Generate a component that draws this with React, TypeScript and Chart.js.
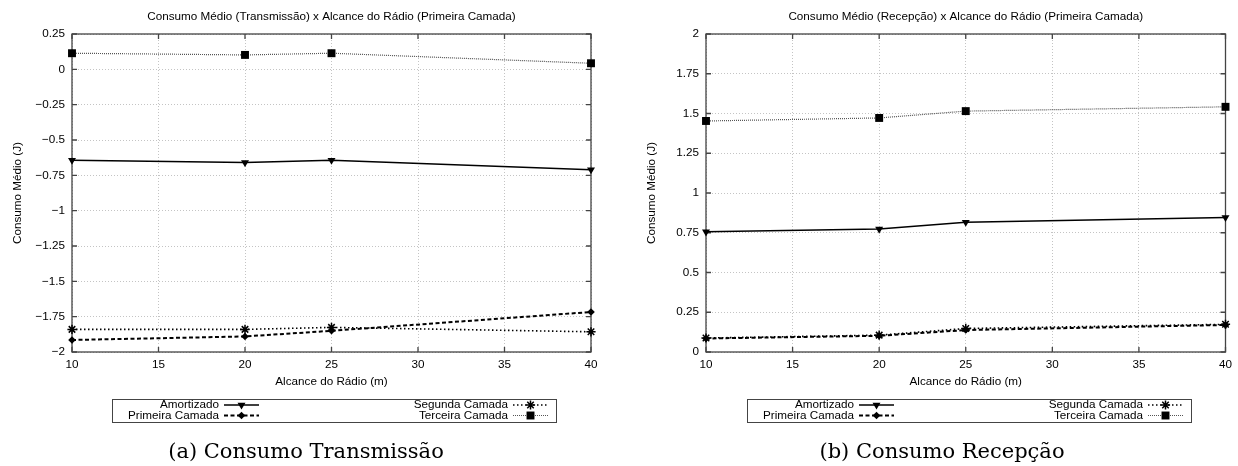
import React, { useEffect, useRef } from 'react';
import { Chart, registerables } from 'chart.js';

Chart.register(...registerables);

// Radio range (m) at which each run was measured
const alcance = [10, 20, 25, 40];
const xTickValues = [10, 15, 20, 25, 30, 35, 40];
const seriesNames = ['Amortizado', 'Primeira Camada', 'Segunda Camada', 'Terceira Camada'];

// Average consumption while transmitting (J)
const txAmortizado = [-0.643, -0.66, -0.643, -0.71];
const txPrimeira = [-1.915, -1.89, -1.85, -1.717];
const txSegunda = [-1.84, -1.84, -1.826, -1.857];
const txTerceira = [0.114, 0.102, 0.114, 0.043];

// Average consumption while receiving (J)
const rxAmortizado = [0.756, 0.773, 0.816, 0.846];
const rxPrimeira = [0.085, 0.102, 0.138, 0.17];
const rxSegunda = [0.088, 0.106, 0.148, 0.174];
const rxTerceira = [1.453, 1.472, 1.515, 1.542];

const txYRange = [-2, 0.25];
const rxYRange = [0, 2];
const yStep = 0.25;

const SANS = '"Liberation Sans", Arial, Helvetica, sans-serif';
const SERIF = '"DejaVu Serif", "Liberation Serif", serif';
const FS = 11.7;
const CW = 619;
const CH = 466;

type SeriesStyle = {
  dash: number[];
  width: number;
  color: string;
  point: string;
  rotation: number;
  radius: number;
};

const styles: SeriesStyle[] = [
  { dash: [], width: 1.5, color: '#000', point: 'triangle', rotation: 180, radius: 4.6 },
  { dash: [4, 2.5], width: 2, color: '#000', point: 'rectRot', rotation: 0, radius: 3.8 },
  { dash: [1.5, 2.5], width: 1.6, color: '#000', point: 'star', rotation: 0, radius: 4.6 },
  { dash: [1, 1], width: 1.2, color: '#555', point: 'rect', rotation: 0, radius: 5.6 },
];

type Panel = {
  title: string;
  caption: string;
  yRange: number[];
  series: number[][];
  plotLeft: number;
  plotRight: number;
  yTitleX: number;
  captionX: number;
  legendLeft: number;
};

const panels: Panel[] = [
  {
    title: 'Consumo Médio (Transmissão) x Alcance do Rádio (Primeira Camada)',
    caption: '(a) Consumo Transmissão',
    yRange: txYRange,
    series: [txAmortizado, txPrimeira, txSegunda, txTerceira],
    plotLeft: 72,
    plotRight: 591,
    yTitleX: 18,
    captionX: 306,
    legendLeft: 112,
  },
  {
    title: 'Consumo Médio (Recepção) x Alcance do Rádio (Primeira Camada)',
    caption: '(b) Consumo Recepção',
    yRange: rxYRange,
    series: [rxAmortizado, rxPrimeira, rxSegunda, rxTerceira],
    plotLeft: 87,
    plotRight: 608,
    yTitleX: 33,
    captionX: 323,
    legendLeft: 128,
  },
];

const fmtTick = (v: number) => String(Math.round(v * 100) / 100).replace('-', '\u2212');

function drawMarker(ctx: CanvasRenderingContext2D, st: SeriesStyle, x: number, y: number) {
  const r = st.radius;
  ctx.save();
  ctx.setLineDash([]);
  ctx.fillStyle = '#000';
  ctx.strokeStyle = '#000';
  ctx.lineWidth = 1.5;
  ctx.beginPath();
  if (st.point === 'triangle') {
    const s = Math.sin(Math.PI / 3) * r;
    ctx.moveTo(x, y + r);
    ctx.lineTo(x - s, y - r / 2);
    ctx.lineTo(x + s, y - r / 2);
    ctx.closePath();
    ctx.fill();
  } else if (st.point === 'rectRot') {
    ctx.moveTo(x, y - r);
    ctx.lineTo(x + r, y);
    ctx.lineTo(x, y + r);
    ctx.lineTo(x - r, y);
    ctx.closePath();
    ctx.fill();
  } else if (st.point === 'star') {
    const d = r * Math.SQRT1_2;
    ctx.moveTo(x - r, y); ctx.lineTo(x + r, y);
    ctx.moveTo(x, y - r); ctx.lineTo(x, y + r);
    ctx.moveTo(x - d, y - d); ctx.lineTo(x + d, y + d);
    ctx.moveTo(x - d, y + d); ctx.lineTo(x + d, y - d);
    ctx.stroke();
  } else {
    const h = r * Math.SQRT1_2;
    ctx.fillRect(x - h, y - h, 2 * h, 2 * h);
  }
  ctx.restore();
}

function decorPlugin(panel: Panel) {
  return {
    id: 'decor',
    beforeDatasetsDraw(chart: any) {
      const ctx: CanvasRenderingContext2D = chart.ctx;
      const { left, right, top, bottom } = chart.chartArea;
      const xs = chart.scales.x;
      const ys = chart.scales.y;
      ctx.save();
      ctx.strokeStyle = '#444';
      ctx.lineWidth = 1.3;
      ctx.setLineDash([]);
      ctx.strokeRect(left, top, right - left, bottom - top);
      ctx.beginPath();
      const tl = 5;
      xTickValues.forEach((v) => {
        const px = xs.getPixelForValue(v);
        ctx.moveTo(px, bottom); ctx.lineTo(px, bottom - tl);
        ctx.moveTo(px, top); ctx.lineTo(px, top + tl);
      });
      ys.ticks.forEach((t: any) => {
        const py = ys.getPixelForValue(t.value);
        ctx.moveTo(left, py); ctx.lineTo(left + tl, py);
        ctx.moveTo(right, py); ctx.lineTo(right - tl, py);
      });
      ctx.stroke();
      ctx.restore();
    },
    afterDraw(chart: any) {
      const ctx: CanvasRenderingContext2D = chart.ctx;
      const { left, right, top, bottom } = chart.chartArea;
      const cx = (left + right) / 2;
      ctx.save();
      ctx.fillStyle = '#000';
      ctx.font = `${FS}px ${SANS}`;
      ctx.textAlign = 'center';
      ctx.textBaseline = 'middle';
      ctx.fillText(panel.title, cx, 17);
      ctx.fillText('Alcance do Rádio (m)', cx, 382);
      ctx.save();
      ctx.translate(panel.yTitleX, (top + bottom) / 2);
      ctx.rotate(-Math.PI / 2);
      ctx.fillText('Consumo Médio (J)', 0, 0);
      ctx.restore();

      // legend box with two columns of entries
      const lx = panel.legendLeft;
      const boxTop = 399;
      const boxBottom = 422;
      const boxW = 444;
      ctx.strokeStyle = '#444';
      ctx.lineWidth = 1;
      ctx.strokeRect(lx + 0.5, boxTop + 0.5, boxW, boxBottom - boxTop);
      const rows = [405, 415.5];
      const cols = [107, 396];
      const order = [
        [0, 0, 0],
        [1, 0, 1],
        [2, 1, 0],
        [3, 1, 1],
      ];
      order.forEach(([si, c, r]) => {
        const st = styles[si];
        const tx = lx + cols[c];
        const y = rows[r];
        ctx.fillStyle = '#000';
        ctx.textAlign = 'right';
        ctx.fillText(seriesNames[si], tx, y);
        const s0 = tx + 5;
        const s1 = tx + 40;
        ctx.save();
        ctx.strokeStyle = st.color;
        ctx.lineWidth = st.width;
        ctx.setLineDash(st.dash);
        ctx.beginPath();
        ctx.moveTo(s0, y);
        ctx.lineTo(s1, y);
        ctx.stroke();
        ctx.restore();
        drawMarker(ctx, st, (s0 + s1) / 2, y);
      });

      ctx.fillStyle = '#000';
      ctx.textAlign = 'center';
      ctx.font = `21px ${SERIF}`;
      ctx.fillText(panel.caption, panel.captionX, 453);
      ctx.restore();
    },
  };
}

function ChartPanel({ panel, offset }: { panel: Panel; offset: number }) {
  const ref = useRef<HTMLCanvasElement | null>(null);
  useEffect(() => {
    if (!ref.current) return;
    const font = { family: SANS, size: FS };
    const chart = new Chart(ref.current, {
      type: 'line',
      data: {
        datasets: panel.series.map((vals, i) => {
          const st = styles[i];
          return {
            label: seriesNames[i],
            data: alcance.map((x, j) => ({ x, y: vals[j] })),
            borderColor: st.color,
            borderWidth: st.width,
            borderDash: st.dash,
            backgroundColor: '#000',
            pointStyle: st.point as any,
            pointRotation: st.rotation,
            pointRadius: st.radius,
            pointBackgroundColor: '#000',
            pointBorderColor: '#000',
            pointBorderWidth: st.point === 'star' ? 1.5 : 0,
            tension: 0,
            clip: false as any,
            fill: false,
          };
        }),
      },
      options: {
        animation: false,
        responsive: false,
        devicePixelRatio: 1,
        events: [],
        layout: { padding: { top: 34, right: CW - panel.plotRight, left: 0, bottom: 0 } },
        plugins: {
          legend: { display: false },
          title: { display: false },
          tooltip: { enabled: false },
        },
        scales: {
          x: {
            type: 'linear',
            min: 10,
            max: 40,
            afterFit: (s: any) => { s.height = CH - 352; },
            afterBuildTicks: (s: any) => { s.ticks = xTickValues.map((v) => ({ value: v })); },
            grid: { color: '#c4c4c4', lineWidth: 1, drawTicks: false },
            border: { display: false, dash: [1, 2] },
            ticks: { padding: 6, font, color: '#000', maxRotation: 0, autoSkip: false },
          },
          y: {
            type: 'linear',
            min: panel.yRange[0],
            max: panel.yRange[1],
            afterFit: (s: any) => { s.width = panel.plotLeft; },
            grid: { color: '#c4c4c4', lineWidth: 1, drawTicks: false },
            border: { display: false, dash: [1, 2] },
            ticks: {
              stepSize: yStep,
              padding: 7,
              font,
              color: '#000',
              autoSkip: false,
              callback: (v: any) => fmtTick(Number(v)),
            },
          },
        },
      } as any,
      plugins: [decorPlugin(panel)],
    });
    return () => chart.destroy();
  }, [panel]);
  return (
    <canvas
      ref={ref}
      width={CW}
      height={CH}
      style={{ position: 'absolute', left: offset, top: 0, width: CW, height: CH, display: 'block' }}
    />
  );
}

export default function App() {
  return (
    <div style={{ position: 'absolute', left: 0, top: 0, width: 1238, height: 466, background: '#fff' }}>
      <ChartPanel panel={panels[0]} offset={0} />
      <ChartPanel panel={panels[1]} offset={619} />
    </div>
  );
}
